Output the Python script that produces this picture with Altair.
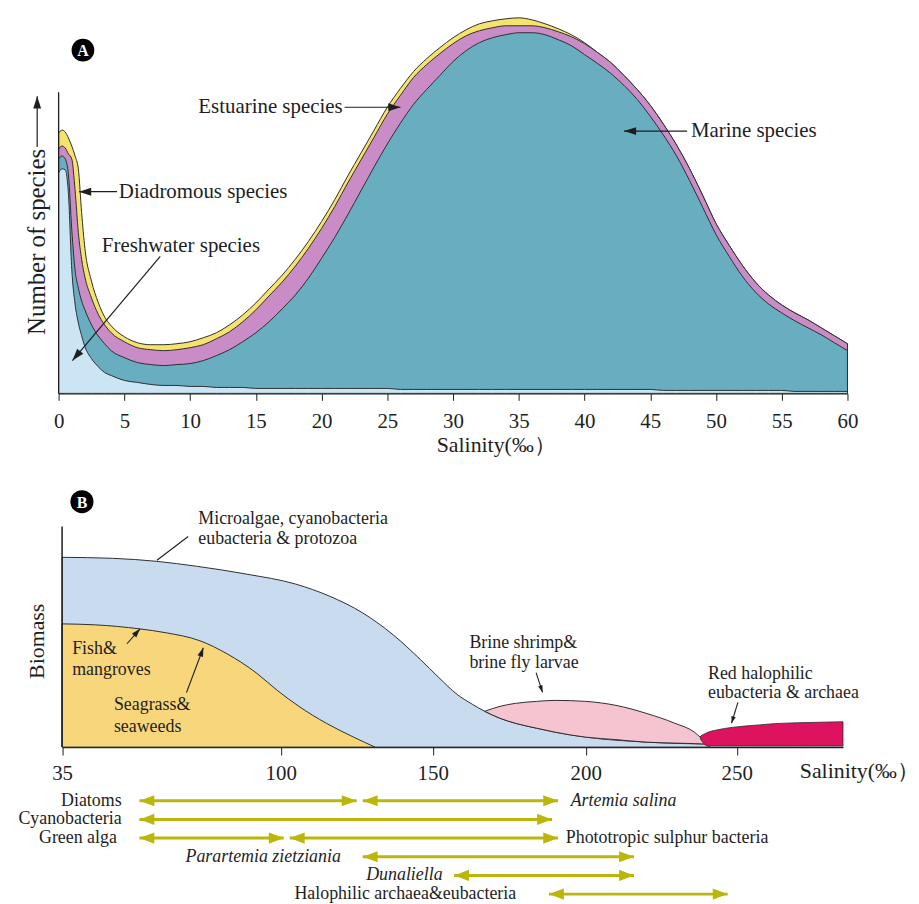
import altair as alt
import pandas as pd

FONT = "Liberation Serif"
INK = "#1e1e1e"
OLIVE = "#bbb60a"
HEAD_BLACK = "M0,0L-2,-0.65L-2,0.65Z"
HEAD_OLIVE = "M0,0L-2,-0.75L-2,0.75Z"

# ---------------- Panel A : number of species vs salinity ----------------
salinity_a = [0, 0.25, 0.5, 0.75, 1.0, 1.25, 1.5, 1.75, 2.0, 2.5, 3.0, 3.5,
              4, 5, 6, 7, 8, 9, 10, 11, 12, 13, 14, 15, 16, 17, 18, 19, 20,
              21, 22, 23, 24, 25, 26, 27, 28, 29, 30, 31, 32, 33, 34, 35, 36,
              37, 38, 39, 40, 41, 42, 43, 44, 45, 46, 47, 48, 49, 50, 51, 52,
              53, 54, 55, 56, 57, 58, 59, 60]
freshwater_top = [222, 226, 225, 200, 125, 90, 71, 58, 47, 35, 27, 21,
                  18, 13, 11, 9, 8, 8, 7, 7, 6, 6, 6, 5, 5, 5, 5, 5, 5,
                  5, 5, 5, 5, 5, 4, 4, 4, 4, 4, 4, 4, 4, 4, 4, 4,
                  4, 4, 4, 4, 4, 4, 4, 4, 4, 3, 3, 3, 3, 3, 3, 3,
                  3, 3, 3, 2, 2, 2, 2, 2]
marine_top = [236, 239, 236, 220, 165, 124, 106, 93, 84, 69, 58, 50,
              43, 36, 31, 29, 28, 29, 30, 33, 38, 44, 52, 61, 72, 85, 99, 116, 136,
              157, 180, 204, 228, 251, 272, 291, 306, 320, 334, 345, 353, 358, 361, 363, 363,
              361, 356, 350, 341, 332, 322, 310, 296, 279, 260, 239, 214, 187, 160, 138, 118,
              102, 90, 81, 73, 66, 59, 51, 43]
estuarine_top = [246, 249, 247, 241, 236, 205, 162, 135, 117, 96, 80, 69,
                 61, 52, 46, 44, 43, 44, 46, 49, 55, 62, 72, 84, 98, 112, 128, 146, 166,
                 188, 212, 235, 258, 281, 300, 318, 331, 342, 352, 360, 365, 368, 370, 370, 370,
                 368, 364, 359, 352, 343, 333, 320, 306, 290, 271, 250, 226, 199, 171, 149, 129,
                 112, 99, 89, 81, 74, 66, 58, 50]
diadromous_top = [262, 265, 263, 257, 249, 239, 226, 182, 146, 113, 92, 77,
                  68, 57, 51, 49, 49, 50, 52, 56, 61, 69, 79, 91, 105, 119, 135, 153, 173,
                  195, 219, 242, 265, 288, 307, 324, 337, 348, 358, 366, 372, 375, 377, 378, 376,
                  372, 367, 361, 353, 343, 333, 320, 306, 290, 271, 250, 226, 199, 171, 149, 129,
                  112, 99, 89, 81, 74, 66, 58, 50]

a_label_text = ["Estuarine species", "Marine species", "Diadromous species", "Freshwater species"]
a_label_x = [21.6, 48.1, 4.58, 3.29]
a_label_y = [288, 264, 203, 148]
a_label_align = ["right", "left", "left", "left"]

# annotation arrows (the last one is the arrow of the y-axis title)
a_arrow_x = [21.75, 47.8, 4.45, 7.73, -1.63]
a_arrow_y = [288, 264, 203, 138, 248]
a_arrow_x2 = [26.0, 43.0, 1.55, 1.05, -1.63]
a_arrow_y2 = [288, 264, 203, 33, 299]
a_arrow_angle = [0, 180, 180, 130, 270]

a_badge_x, a_badge_y, a_badge_t = [1.85], [345.5], ["A"]

# ---------------- Panel B : biomass vs salinity ----------------
micro_x = [35, 50, 63, 75, 90, 105, 116, 127, 137, 146, 152, 158, 163, 167, 172, 177, 184, 190, 200, 220, 241]
micro_y = [191, 190, 187, 182, 174, 164, 152, 135, 113, 88, 70, 53, 43, 36, 29, 24, 19, 15, 10, 5, 3]
fish_x = [35, 45, 58, 66, 76, 84, 93, 99, 106, 115, 124, 131]
fish_y = [124, 123, 119, 115, 107, 94, 74, 57, 41, 24, 10, 0]
shrimp_x = [167, 172, 177, 184, 190, 200, 210, 220, 229.5, 236, 240]
shrimp_top = [36, 41, 44, 46, 47, 46, 42, 34, 24, 15, 3.5]
shrimp_bottom = [36, 29, 24, 19, 15, 10, 7.5, 5, 4, 3.5, 3]
red_x = [238, 240.5, 243, 249, 256, 262, 270, 277, 285]
red_top = [11, 15, 17, 20, 22, 23.5, 24.5, 25, 25.5]
red_bottom = [8, 1, 1, 1, 1, 1, 1, 1, 1]

b_label_text = ["Microalgae, cyanobacteria", "eubacteria & protozoa", "Fish&", "mangroves",
                "Seagrass&", "seaweeds", "Brine shrimp&", "brine fly larvae",
                "Red halophilic", "eubacteria & archaea"]
b_label_x = [75.5, 75.5, 38.0, 38.0, 50.4, 50.4, 162.0, 162.0, 240.5, 240.5]
b_label_y = [230, 209, 99, 78, 42, 20, 105, 85, 74, 54]

b_lead_x = [72.5, 54.3, 72.0, 183.8, 250.4]
b_lead_y = [212, 104, 55, 75, 45]
b_lead_x2 = [63.2, 58.2, 77.0, 185.9, 248.3]
b_lead_y2 = [188, 119, 100, 55, 24]
b_head_angle = [0, 312, 290, 71.5, 107]
b_head_size = [0, 81, 81, 49, 49]

b_badge_x, b_badge_y, b_badge_t = [40.9], [247], ["B"]

# ---------------- Panel C : salinity ranges of organisms ----------------
range_start = [58, 127, 58, 58, 103, 127, 157, 188]
range_end = [125, 191, 189, 101, 191, 216, 216, 247]
range_lane = [0, 0, 1, 2, 2, 3, 4, 5]

c_label_text = ["Diatoms", "Cyanobacteria", "Green alga", "Artemia salina",
                "Phototropic sulphur bacteria", "Parartemia zietziania", "Dunaliella",
                "Halophilic archaea&eubacteria"]
c_label_x = [52.7, 52.7, 51.3, 195.1, 193.5, 94.8, 140.7, 141.0]
c_label_lane = [0, 1, 2, 0, 2, 3, 4, 5]
c_label_align = ["right", "right", "right", "left", "left", "center", "center", "center"]
c_label_style = ["normal", "normal", "normal", "italic", "normal", "italic", "italic", "normal"]

# =======================================================================
axA_x = alt.Axis(values=list(range(0, 61, 5)), grid=False, tickSize=7, tickColor=INK,
                 domainColor=INK, domainWidth=1.3, labelFont=FONT, labelFontSize=21,
                 labelColor=INK, labelPadding=10, labelFlush=False,
                 title="Salinity(‰）", titleFont=FONT, titleFontSize=22,
                 titleFontWeight="normal", titleColor=INK, titleX=380, titleY=51,
                 titleAlign="left", titleBaseline="middle")
axA_y = alt.Axis(domain=False, ticks=False, labels=False, grid=False,
                 title="Number of species", titleFont=FONT, titleFontSize=25,
                 titleFontWeight="normal", titleColor=INK, titleX=-22, titleY=228,
                 titleAngle=270, titleAlign="center", titleBaseline="middle")


def xa(field):
    return alt.X(f"{field}:Q", scale=alt.Scale(domain=[0, 60], nice=False, zero=False), axis=axA_x)


def ya(field):
    return alt.Y(f"{field}:Q", scale=alt.Scale(domain=[0, 381], nice=False), axis=axA_y)


dfA = pd.DataFrame({"salinity": salinity_a, "fresh": freshwater_top, "marine": marine_top,
                    "estuarine": estuarine_top, "diadromous": diadromous_top})
layersA = []
for field, col in [("diadromous", "#f6e36e"), ("estuarine", "#c98cc6"),
                   ("marine", "#69adc1"), ("fresh", "#cbe5f4")]:
    layersA.append(alt.Chart(dfA).mark_area(color=col, stroke="#2e2e2e", strokeWidth=1,
                                            interpolate="monotone", opacity=1)
                   .encode(x=xa("salinity"), y=ya(field)))

axisA_df = pd.DataFrame({"x": [0], "y": [0], "y2": [303]})
layersA.append(alt.Chart(axisA_df).mark_rule(color=INK, strokeWidth=1.3)
               .encode(x=xa("x"), y=ya("y"), y2="y2"))

annA = pd.DataFrame({"text": a_label_text, "x": a_label_x, "y": a_label_y, "align": a_label_align})
for al in ["left", "right"]:
    layersA.append(alt.Chart(annA).transform_filter(alt.datum.align == al)
                   .mark_text(font=FONT, fontSize=21, color=INK, align=al, baseline="middle")
                   .encode(x=xa("x"), y=ya("y"), text="text:N"))
arrA = pd.DataFrame({"x": a_arrow_x, "y": a_arrow_y, "x2": a_arrow_x2, "y2": a_arrow_y2,
                     "angle": a_arrow_angle})
layersA.append(alt.Chart(arrA).mark_rule(color=INK, strokeWidth=1.2)
               .encode(x=xa("x"), y=ya("y"), x2="x2", y2="y2"))
layersA.append(alt.Chart(arrA).mark_point(shape=HEAD_BLACK, filled=True, color=INK, opacity=1,
                                          size=150, strokeWidth=0)
               .encode(x=xa("x2"), y=ya("y2"), angle=alt.Angle("angle:Q", scale=None)))
badgeA = pd.DataFrame({"x": a_badge_x, "y": a_badge_y, "t": a_badge_t})
layersA.append(alt.Chart(badgeA).mark_point(shape="circle", filled=True, color="black",
                                            opacity=1, size=520)
               .encode(x=xa("x"), y=ya("y")))
layersA.append(alt.Chart(badgeA).mark_text(font=FONT, fontSize=16, fontWeight="bold",
                                           color="white", baseline="middle", dy=1)
               .encode(x=xa("x"), y=ya("y"), text="t:N"))
panelA = alt.layer(*layersA).properties(width=794, height=381)

# ---------------- Panel B ----------------
B_DOMAIN = [35, 100, 150, 200, 250, 285]
B_RANGE = [3.5, 223.5, 376.5, 530.5, 682.5, 789.5]

axB_x = alt.Axis(values=[35, 100, 150, 200, 250], grid=False, tickSize=8, tickColor=INK,
                 domainColor=INK, domainWidth=1.5, labelFont=FONT, labelFontSize=21,
                 labelColor=INK, labelPadding=8, labelFlush=False,
                 title="Salinity(‰）", titleFont=FONT, titleFontSize=22,
                 titleFontWeight="normal", titleColor=INK, titleX=745.5, titleY=24,
                 titleAlign="left", titleBaseline="middle")
axB_y = alt.Axis(domain=False, ticks=False, labels=False, grid=False, title="Biomass",
                 titleFont=FONT, titleFontSize=22, titleFontWeight="normal", titleColor=INK,
                 titleX=-22, titleY=206, titleAngle=270, titleAlign="center",
                 titleBaseline="middle")


def xb(field):
    return alt.X(f"{field}:Q", scale=alt.Scale(domain=B_DOMAIN, range=B_RANGE, nice=False,
                                               zero=False), axis=axB_x)


def yb(field):
    return alt.Y(f"{field}:Q", scale=alt.Scale(domain=[0, 313], nice=False), axis=axB_y)


layersB = []
dfMicro = pd.DataFrame({"x": micro_x, "y": micro_y})
layersB.append(alt.Chart(dfMicro).mark_area(color="#c9dcef", stroke="#2e2e2e", strokeWidth=1,
                                            interpolate="monotone", opacity=1)
               .encode(x=xb("x"), y=yb("y")))
dfFish = pd.DataFrame({"x": fish_x, "y": fish_y})
layersB.append(alt.Chart(dfFish).mark_area(color="#f8d67c", stroke="#2e2e2e", strokeWidth=1,
                                           interpolate="monotone", opacity=1)
               .encode(x=xb("x"), y=yb("y")))
dfShrimp = pd.DataFrame({"x": shrimp_x, "top": shrimp_top, "bottom": shrimp_bottom})
layersB.append(alt.Chart(dfShrimp).mark_area(color="#f6c3d0", stroke="#2e2e2e", strokeWidth=1,
                                             interpolate="monotone", opacity=1)
               .encode(x=xb("x"), y=yb("top"), y2="bottom"))
dfRed = pd.DataFrame({"x": red_x, "top": red_top, "bottom": red_bottom})
layersB.append(alt.Chart(dfRed).mark_area(color="#de1360", stroke="#2e2e2e", strokeWidth=0.8,
                                          interpolate="monotone", opacity=1)
               .encode(x=xb("x"), y=yb("top"), y2="bottom"))
axisB_df = pd.DataFrame({"x": [35], "y": [0], "y2": [222]})
layersB.append(alt.Chart(axisB_df).mark_rule(color=INK, strokeWidth=1.5)
               .encode(x=xb("x"), y=yb("y"), y2="y2"))
annB = pd.DataFrame({"text": b_label_text, "x": b_label_x, "y": b_label_y})
layersB.append(alt.Chart(annB).mark_text(font=FONT, fontSize=18, color=INK, align="left",
                                         baseline="middle")
               .encode(x=xb("x"), y=yb("y"), text="text:N"))
leadB = pd.DataFrame({"x": b_lead_x, "y": b_lead_y, "x2": b_lead_x2, "y2": b_lead_y2,
                      "angle": b_head_angle, "size": b_head_size})
layersB.append(alt.Chart(leadB).mark_rule(color=INK, strokeWidth=1.1)
               .encode(x=xb("x"), y=yb("y"), x2="x2", y2="y2"))
layersB.append(alt.Chart(leadB).mark_point(shape=HEAD_BLACK, filled=True, color=INK, opacity=1,
                                           strokeWidth=0)
               .encode(x=xb("x2"), y=yb("y2"), angle=alt.Angle("angle:Q", scale=None),
                       size=alt.Size("size:Q", scale=None)))
badgeB = pd.DataFrame({"x": b_badge_x, "y": b_badge_y, "t": b_badge_t})
layersB.append(alt.Chart(badgeB).mark_point(shape="circle", filled=True, color="black",
                                            opacity=1, size=540)
               .encode(x=xb("x"), y=yb("y")))
layersB.append(alt.Chart(badgeB).mark_text(font=FONT, fontSize=16, fontWeight="bold",
                                           color="white", baseline="middle", dy=1)
               .encode(x=xb("x"), y=yb("y"), text="t:N"))
panelB = alt.layer(*layersB).properties(width=791, height=313)

# ---------------- Panel C ----------------


def xc(field):
    return alt.X(f"{field}:Q", scale=alt.Scale(domain=B_DOMAIN, range=B_RANGE, nice=False,
                                               zero=False), axis=None)


def yc(field):
    return alt.Y(f"{field}:Q", scale=alt.Scale(domain=[0, 5], range=[11, 105]), axis=None)


dfRange = pd.DataFrame({"start": range_start, "end": range_end, "lane": range_lane})
layersC = [
    alt.Chart(dfRange).mark_rule(color=OLIVE, strokeWidth=3)
    .encode(x=xc("start"), x2="end", y=yc("lane")),
    alt.Chart(dfRange).mark_point(shape=HEAD_OLIVE, filled=True, color=OLIVE, opacity=1,
                                  size=225, strokeWidth=0, angle=0)
    .encode(x=xc("end"), y=yc("lane")),
    alt.Chart(dfRange).mark_point(shape=HEAD_OLIVE, filled=True, color=OLIVE, opacity=1,
                                  size=225, strokeWidth=0, angle=180)
    .encode(x=xc("start"), y=yc("lane")),
]
annC = pd.DataFrame({"text": c_label_text, "x": c_label_x, "lane": c_label_lane,
                     "align": c_label_align, "style": c_label_style})
for al, st in [("right", "normal"), ("left", "normal"), ("left", "italic"),
               ("center", "italic"), ("center", "normal")]:
    layersC.append(alt.Chart(annC)
                   .transform_filter((alt.datum.align == al) & (alt.datum.style == st))
                   .mark_text(font=FONT, fontSize=18, color=INK, align=al, baseline="middle",
                              fontStyle=st)
                   .encode(x=xc("x"), y=yc("lane"), text="text:N"))
panelC = alt.layer(*layersC).properties(width=791, height=114)

chart = (alt.vconcat(panelA, panelB, panelC, spacing=43, bounds="flush")
         .properties(padding={"left": 18, "top": 12, "right": 0, "bottom": 0},
                     background="white")
         .configure_view(strokeWidth=0))

chart.save("out.html", embed_options={"renderer": "svg", "actions": False})
